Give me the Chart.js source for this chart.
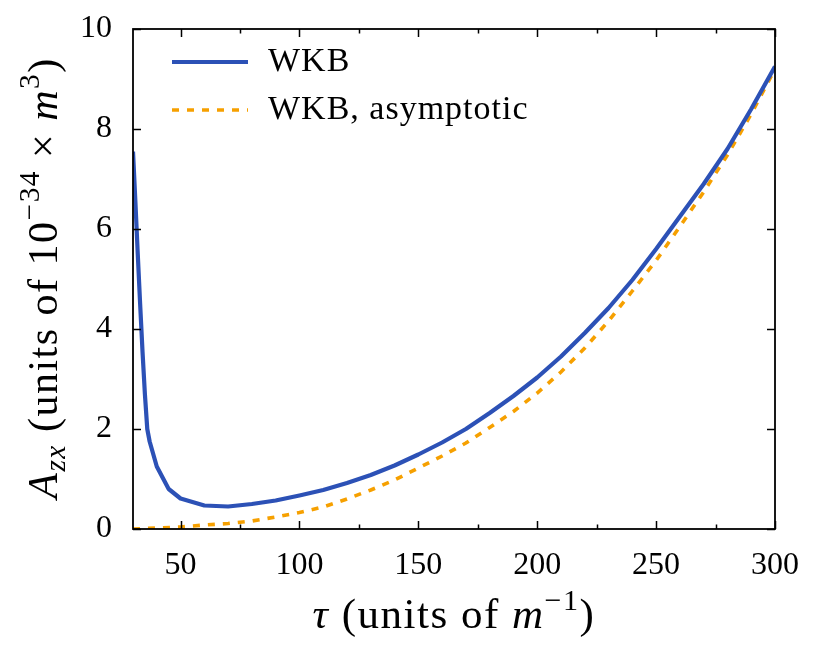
<!DOCTYPE html>
<html>
<head>
<meta charset="utf-8">
<script src="https://cdn.jsdelivr.net/npm/chart.js@4.4.1/dist/chart.umd.min.js"></script>
<style>
  html, body { margin: 0; padding: 0; background: #fff; }
</style>
</head>
<body>
<canvas id="chart" width="814" height="652"></canvas>
<script>
// values
const tauWkb = [30, 31, 32, 33, 34, 35, 36, 37, 40, 45, 50, 60, 70, 80, 90, 100, 110, 120, 130, 140, 150,
                160, 170, 180, 190, 200, 210, 220, 230, 240, 250, 260, 270, 280, 290, 300];
const aWkb = [7.55, 6.55, 5.5, 4.5, 3.55, 2.7, 2.0, 1.75, 1.25, 0.8, 0.61, 0.47, 0.45, 0.5, 0.57, 0.67, 0.78, 0.92, 1.08, 1.27, 1.49,
              1.73, 2.0, 2.32, 2.66, 3.03, 3.45, 3.92, 4.42, 4.98, 5.6, 6.25, 6.9, 7.6, 8.4, 9.25];

const tauAsym = [30, 40, 50, 60, 70, 80, 90, 100, 110, 120, 130, 140, 150, 160, 170, 180, 190, 200,
                 210, 220, 230, 240, 250, 260, 270, 280, 290, 300];
const aAsym = [0.0, 0.02, 0.04, 0.08, 0.11, 0.16, 0.24, 0.33, 0.44, 0.6, 0.78, 0.98, 1.22, 1.46, 1.72, 2.03, 2.35, 2.72,
               3.14, 3.62, 4.16, 4.76, 5.37, 6.05, 6.74, 7.48, 8.3, 9.2];

const xMajor = [50, 100, 150, 200, 250, 300];
const xMinor = [75, 125, 175, 225, 275];
const yMajor = [0, 2, 4, 6, 8, 10];

const seriesNames = ['WKB', 'WKB, asymptotic'];
const blue = '#2c51b6';
const orange = '#f6a000';
const serif = '"Liberation Serif", "DejaVu Serif", serif';

const toPoints = (xs, ys) => xs.map((v, i) => ({ x: v, y: ys[i] }));

// draw a run of text pieces (italic / sub / sup) centred on x, baseline y
function richText(ctx, parts, x, y, size) {
    const font = p => (p.it ? 'italic ' : '') + (p.s ? size * 0.7 : size) + 'px ' + serif;
    let w = 0;
    parts.forEach(p => { ctx.font = font(p); w += ctx.measureText(p.t).width; });
    let cx = x - w / 2;
    ctx.textAlign = 'left';
    ctx.textBaseline = 'alphabetic';
    parts.forEach(p => {
        ctx.font = font(p);
        const dy = p.s === 'sup' ? -0.42 * size : p.s === 'sub' ? 0.2 * size : 0;
        ctx.fillText(p.t, cx, y + dy);
        cx += ctx.measureText(p.t).width;
    });
}

const framePlugin = {
    id: 'frame',
    afterDraw(chart) {
        const { ctx, chartArea: a, scales: { x, y } } = chart;
        ctx.save();
        ctx.strokeStyle = '#000';
        ctx.lineWidth = 1.8;
        ctx.strokeRect(a.left, a.top, a.right - a.left, a.bottom - a.top);

        // inward ticks on all four sides
        ctx.lineWidth = 1.5;
        ctx.beginPath();
        xMajor.concat(xMinor).forEach(v => {
            const len = xMajor.includes(v) ? 8 : 4.5;
            const px = Math.round(x.getPixelForValue(v)) + 0.5;
            ctx.moveTo(px, a.bottom); ctx.lineTo(px, a.bottom - len);
            ctx.moveTo(px, a.top); ctx.lineTo(px, a.top + len);
        });
        yMajor.forEach(v => {
            const py = Math.round(y.getPixelForValue(v)) + 0.5;
            ctx.moveTo(a.left, py); ctx.lineTo(a.left + 8, py);
            ctx.moveTo(a.right, py); ctx.lineTo(a.right - 8, py);
        });
        ctx.stroke();

        // legend
        ctx.lineWidth = 4;
        ctx.strokeStyle = blue;
        ctx.beginPath(); ctx.moveTo(172, 62); ctx.lineTo(248, 62); ctx.stroke();
        ctx.strokeStyle = orange;
        ctx.lineWidth = 3.6;
        ctx.setLineDash([7, 8]);
        ctx.beginPath(); ctx.moveTo(172, 110); ctx.lineTo(248, 110); ctx.stroke();
        ctx.setLineDash([]);
        ctx.fillStyle = '#000';
        ctx.font = '34px ' + serif;
        ctx.textAlign = 'left';
        ctx.textBaseline = 'alphabetic';
        ctx.letterSpacing = '1px';
        ctx.fillText(seriesNames[0], 268, 71);
        ctx.fillText(seriesNames[1], 268, 119);

        // axis titles
        ctx.letterSpacing = '1.5px';
        richText(ctx, [
            { t: 'τ', it: true }, { t: ' (units of ' }, { t: 'm', it: true }, { t: '−1', s: 'sup' }, { t: ')' }
        ], 454, 628, 43);

        ctx.translate(57, 278);
        ctx.rotate(-Math.PI / 2);
        richText(ctx, [
            { t: 'A', it: true }, { t: 'zx', it: true, s: 'sub' }, { t: ' (units of 10' }, { t: '−34', s: 'sup' },
            { t: ' × ' }, { t: 'm', it: true }, { t: '3', s: 'sup' }, { t: ')' }
        ], 0, 0, 42);
        ctx.restore();
    }
};

// keep tick label overhang from pushing the plot area around
const noPad = s => { s.paddingTop = 0; s.paddingBottom = 0; s.paddingLeft = 0; s.paddingRight = 0; };

new Chart(document.getElementById('chart'), {
    type: 'line',
    data: {
        datasets: [
            {
                label: seriesNames[0],
                data: toPoints(tauWkb, aWkb),
                borderColor: blue,
                borderWidth: 4.2,
                pointRadius: 0,
                tension: 0,
                borderJoinStyle: 'round'
            },
            {
                label: seriesNames[1],
                data: toPoints(tauAsym, aAsym),
                borderColor: orange,
                borderWidth: 3.6,
                borderDash: [7, 8],
                pointRadius: 0,
                tension: 0
            }
        ]
    },
    options: {
        responsive: false,
        animation: false,
        layout: { padding: { left: 0, right: 39, top: 29, bottom: 0 } },
        plugins: { legend: { display: false }, tooltip: { enabled: false } },
        scales: {
            x: {
                type: 'linear',
                min: 30,
                max: 300,
                afterBuildTicks: s => { s.ticks = xMajor.map(v => ({ value: v })); },
                afterFit: s => { s.height = 123; noPad(s); },
                grid: { display: false, drawTicks: false },
                border: { display: false },
                ticks: { color: '#000', font: { family: serif, size: 32 }, padding: 17, maxRotation: 0 }
            },
            y: {
                min: 0,
                max: 10,
                afterBuildTicks: s => { s.ticks = yMajor.map(v => ({ value: v })); },
                afterFit: s => { s.width = 133; noPad(s); },
                grid: { display: false, drawTicks: false },
                border: { display: false },
                ticks: { color: '#000', font: { family: serif, size: 32 }, padding: 21 }
            }
        }
    },
    plugins: [framePlugin]
});
</script>
</body>
</html>
